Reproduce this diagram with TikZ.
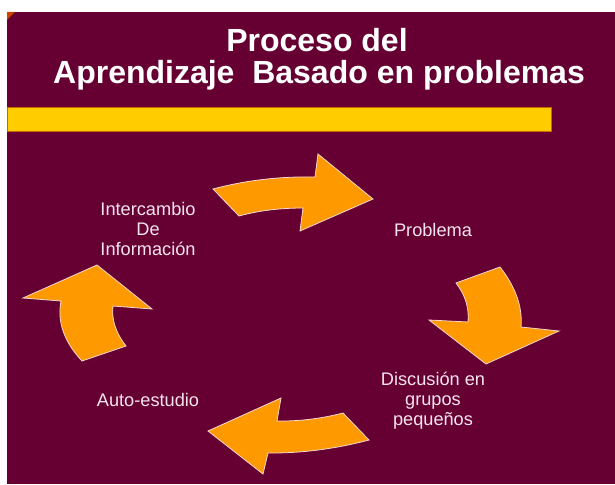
\documentclass[tikz,border=0pt]{standalone}
\usepackage{fontspec}
\setmainfont{Liberation Sans}
\definecolor{maroon}{HTML}{660033}
\definecolor{arroworange}{HTML}{FF9900}
\definecolor{baryellow}{HTML}{FFCC00}
\definecolor{baredge}{HTML}{CC6600}
\definecolor{labeltext}{HTML}{F4E4EC}
\definecolor{arrowedge}{HTML}{F8D8D0}
\definecolor{cornerorange}{HTML}{CC4400}
\begin{document}
\begin{tikzpicture}[x=1pt,y=-1pt,
  titletext/.style={text=white,font=\fontsize{32}{32}\selectfont\bfseries,anchor=base,inner sep=0pt},
  label/.style={text=labeltext,font=\fontsize{18.2}{20}\selectfont,align=center,anchor=base,inner sep=0pt},
  blockarrow/.style={fill=arroworange,draw=arrowedge,line width=0.8pt,line join=miter}]
\useasboundingbox (0,0) rectangle (615,484);
\fill[white] (0,0) rectangle (615,484);
\fill[maroon] (7,12) rectangle (615,484);
\fill[cornerorange] (7,12) -- (15,12) -- (7,20) -- cycle;
% yellow bar
\fill[baryellow,draw=baredge,line width=0.8pt] (7,107) rectangle (551,131);
% title
\node[titletext] (t1) at (317,52) {Proceso del};
\node[titletext] (t2) at (319,84) {Aprendizaje\ \ Basado en problemas};
% labels (base anchor = last line)
\node[label] (inter) at (148,255) {Intercambio\\De\\Información};
\node[label] (prob) at (433,236) {Problema};
\node[label] (disc) at (433,425) {Discusión en\\grupos\\pequeños};
\node[label] (auto) at (148,406) {Auto-estudio};
% top arrow (right)
\path[blockarrow] (213,189) .. controls (245.7,180.3) and (279.7,176.3) .. (315,177)
  -- (318,154) -- (373,199) -- (300,231) -- (303,208)
  .. controls (279.7,208) and (258.3,210.7) .. (239,216) -- cycle;
% right arrow (down)
\path[blockarrow] (456,283) -- (500,267) .. controls (515.7,287) and (522.7,307) .. (521,327)
  -- (559,331) -- (486,364) -- (429,320) -- (468,322)
  .. controls (469.3,308) and (465.3,295) .. cycle;
% bottom arrow (left)
\path[blockarrow] (343,413) .. controls (321,418.7) and (299,421.4) .. (277,421)
  -- (281,398) -- (208,431) -- (263,474) -- (268,453)
  .. controls (301.3,453.3) and (335,449) .. (369,440) -- cycle;
% left arrow (up)
\path[blockarrow] (97,265) -- (152,309) -- (113,306)
  .. controls (111.3,319.3) and (115.7,332.7) .. (126,346) -- (82,361)
  .. controls (64,341.7) and (57,321.7) .. (61,301) -- (23,298) -- cycle;
\end{tikzpicture}
\end{document}
